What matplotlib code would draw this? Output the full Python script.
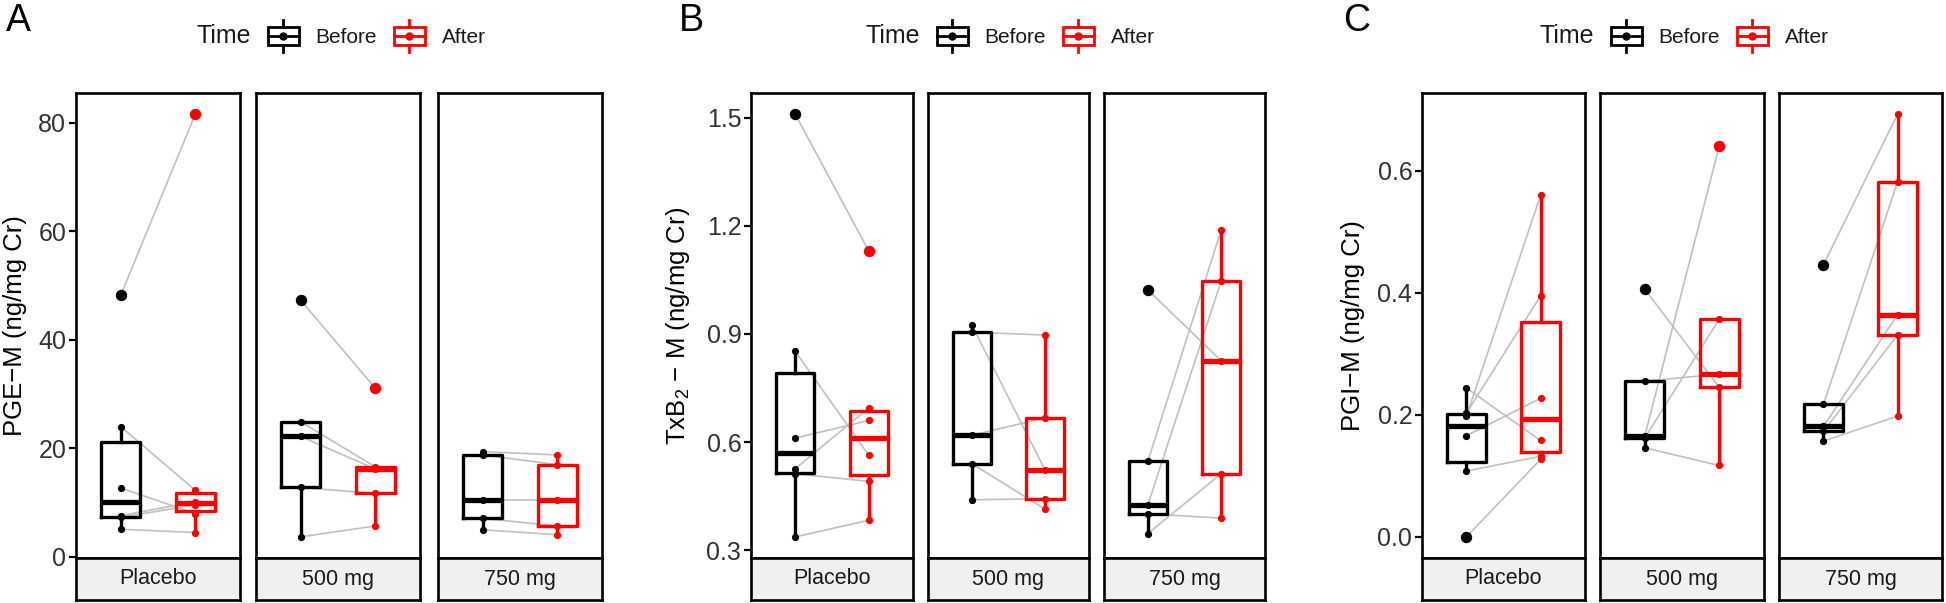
import numpy as np
import matplotlib
matplotlib.use('Agg')
import matplotlib.pyplot as plt
from matplotlib.legend_handler import HandlerBase
from matplotlib.patches import Rectangle
from matplotlib.lines import Line2D

plt.rcParams['font.family'] = ['Liberation Sans', 'DejaVu Sans']
plt.rcParams['mathtext.fontset'] = 'custom'
plt.rcParams['mathtext.rm'] = 'Liberation Sans'
plt.rcParams['mathtext.default'] = 'regular'

doses = ['Placebo', '500 mg', '750 mg']

# values paired by subject (index i before -> index i after)
pge_before = [[48.2, 24.0, 12.7, 7.6, 7.3, 5.1],
              [47.3, 24.9, 22.2, 12.8, 3.7],
              [19.4, 18.8, 10.5, 7.1, 5.0]]
pge_after = [[81.6, 12.3, 8.0, 10.2, 9.6, 4.5],
             [31.1, 16.6, 16.2, 11.7, 5.7],
             [18.8, 17.0, 10.5, 5.7, 4.1]]

txb_before = [[1.51, 0.852, 0.611, 0.526, 0.512, 0.337],
              [0.925, 0.905, 0.619, 0.54, 0.44],
              [1.022, 0.547, 0.426, 0.401, 0.346]]
txb_after = [[1.13, 0.563, 0.66, 0.695, 0.491, 0.383],
             [0.522, 0.897, 0.667, 0.414, 0.443],
             [0.826, 1.188, 1.046, 0.389, 0.512]]

pgi_before = [[0.244, 0.198, 0.203, 0.166, 0.108, 0.0],
              [0.406, 0.255, 0.165, 0.162, 0.146],
              [0.446, 0.217, 0.181, 0.173, 0.157]]
pgi_after = [[0.158, 0.560, 0.395, 0.227, 0.132, 0.127],
             [0.245, 0.267, 0.641, 0.357, 0.117],
             [0.693, 0.582, 0.364, 0.331, 0.198]]

pge_ticks = [0, 20, 40, 60, 80]
txb_ticks = [0.3, 0.6, 0.9, 1.2, 1.5]
pgi_ticks = [0.0, 0.2, 0.4, 0.6]

W, H = 1946, 603
fig = plt.figure(figsize=(W / 100, H / 100), dpi=100)


def px(x0, x1, y0, y1):
    return [x0 / W, 1 - y1 / H, (x1 - x0) / W, (y1 - y0) / H]


class BoxKey(HandlerBase):
    def create_artists(self, legend, orig_handle, xdescent, ydescent,
                       width, height, fontsize, trans):
        c = orig_handle.get_color()
        if c == 'none':
            r = Rectangle((0, 0), 1, 1, visible=False, transform=trans)
            return [r]
        x0, y0 = -xdescent, -ydescent
        cx, cy = x0 + width / 2, y0 + height / 2
        h = height
        rect = Rectangle((x0, cy - h / 2), width, h, fill=False, ec=c, lw=2.0,
                         transform=trans)
        med = Line2D([x0, x0 + width], [cy, cy], color=c, lw=2.0, transform=trans)
        wt = Line2D([cx, cx], [cy + h / 2, cy + h * 0.85], color=c, lw=2.0, transform=trans)
        wb = Line2D([cx, cx], [cy - h / 2, cy - h * 0.85], color=c, lw=2.0, transform=trans)
        dot = Line2D([cx], [cy], marker='o', ms=5, color=c, transform=trans)
        return [rect, med, wt, wb, dot]


panels = [
    dict(letter='A', lx=6, ylabel='PGE\u2212M (ng/mg Cr)', ylx=15,
         before=pge_before, after=pge_after, ticks=pge_ticks, fmt='{:.0f}',
         xs=[(76, 240), (256, 420), (438, 602)], legx=317),
    dict(letter='B', lx=679, ylabel='TxB$_2$ \u2212 M (ng/mg Cr)', ylx=678,
         before=txb_before, after=txb_after, ticks=txb_ticks, fmt='{:.1f}',
         xs=[(751, 913), (928, 1089), (1104, 1265)], legx=986),
    dict(letter='C', lx=1343, ylabel='PGI\u2212M (ng/mg Cr)', ylx=1353,
         before=pgi_before, after=pgi_after, ticks=pgi_ticks, fmt='{:.1f}',
         xs=[(1422, 1585), (1600, 1764), (1779, 1942)], legx=1660),
]

top, bottom, strip_h = 93, 558, 42
blw = 1.9

for p in panels:
    allv = np.concatenate([np.concatenate(p['before']), np.concatenate(p['after'])])
    lo, hi = allv.min(), allv.max()
    pad = 0.05 * (hi - lo)
    for i, (x0, x1) in enumerate(p['xs']):
        ax = fig.add_axes(px(x0, x1, top, bottom))
        b, a = p['before'][i], p['after'][i]
        for vb, va in zip(b, a):
            ax.plot([1, 2], [vb, va], color='#C0C0C0', lw=1.2, zorder=1)
        for pos, vals, c in [(1, b, 'black'), (2, a, 'red')]:
            ax.boxplot(vals, positions=[pos], widths=0.52, showcaps=False,
                       manage_ticks=False,
                       boxprops=dict(color=c, lw=2.4),
                       medianprops=dict(color=c, lw=3.8),
                       whiskerprops=dict(color=c, lw=2.4),
                       flierprops=dict(marker='o', mfc=c, mec=c, ms=7.2),
                       zorder=2)
            ax.plot(np.full(len(vals), pos), vals, 'o', color=c, ms=5.2,
                    mew=0, zorder=3)
        ax.set_xlim(0.4, 2.6)
        ax.set_ylim(lo - pad, hi + pad)
        ax.set_xticks([])
        ax.set_yticks(p['ticks'])
        if i == 0:
            ax.set_yticklabels([p['fmt'].format(t) for t in p['ticks']])
            ax.tick_params(axis='y', length=5, width=1.6, labelsize=18,
                           labelcolor='#333333', pad=2)
        else:
            ax.tick_params(axis='y', left=False, labelleft=False)
        for s in ax.spines.values():
            s.set_linewidth(blw)
            s.set_color('black')

        sax = fig.add_axes(px(x0, x1, bottom, bottom + strip_h))
        sax.set_facecolor('#F0F0F0')
        sax.set_xticks([])
        sax.set_yticks([])
        for s in sax.spines.values():
            s.set_linewidth(blw)
        sax.text(0.5, 0.5, doses[i], ha='center', va='center', fontsize=15.5,
                 color='#1A1A1A', transform=sax.transAxes)

    fig.text(p['ylx'] / W, 1 - (top + bottom) / 2 / H, p['ylabel'], rotation=90,
             ha='center', va='center', fontsize=18.5)
    fig.text(p['lx'] / W, 1 - 3 / H, p['letter'], ha='left', va='top', fontsize=27)

    handles = [Line2D([], [], color='none'), Line2D([], [], color='black'),
               Line2D([], [], color='red')]
    leg = fig.legend(handles, ['Time', 'Before', 'After'], ncol=3, frameon=False,
                     handler_map={Line2D: BoxKey()}, fontsize=15,
                     handlelength=1.5, handleheight=1.0, handletextpad=0.8,
                     columnspacing=0.8, borderpad=0, borderaxespad=0,
                     loc='center', bbox_to_anchor=(p['legx'] / W, 1 - 36 / H))
    leg.get_texts()[0].set_fontsize(18)
    for t in leg.get_texts():
        t.set_color('#1A1A1A')

fig.savefig('out.png', dpi=100)
